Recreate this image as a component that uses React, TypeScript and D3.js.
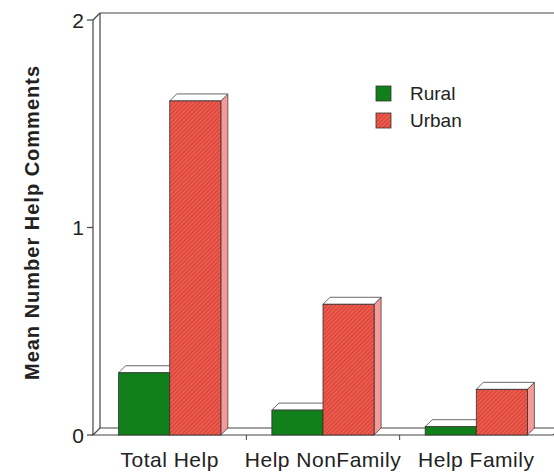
import React from "react";
import * as d3 from "d3";

const categories = ["Total Help", "Help NonFamily", "Help Family"];
const series = ["Rural", "Urban"];
const rural = [0.3, 0.12, 0.04];
const urban = [1.61, 0.63, 0.22];
const yTicks = [0, 1, 2];

const W = 554;
const H = 473;
const DX = 7;
const DY = -7;
const FONT = "Liberation Sans, Arial, Helvetica, sans-serif";

export default function App() {
  const x = d3.scaleBand<string>().domain(categories).range([93, 553]).paddingInner(0.333).paddingOuter(0.167);
  const xs = d3.scaleBand<string>().domain(series).range([0, x.bandwidth()]);
  const y = d3.scaleLinear().domain([0, 2]).range([435, 20]);
  const y0 = y(0);
  const left = x.range()[0];
  const right = x.range()[1];

  const colors: Record<string, { front: string; side: string }> = {
    Rural: { front: "#12801a", side: "#0c5e12" },
    Urban: { front: "url(#hatch)", side: "#f59a98" },
  };

  const bars = categories.flatMap((c, i) =>
    series.map((s) => ({ c, s, v: s === "Rural" ? rural[i] : urban[i] }))
  );

  const stroke = "#444";

  return (
    <div style={{ position: "absolute", left: 0, top: 0 }}>
      <svg width={W} height={H} style={{ display: "block", background: "#fff" }}>
        <defs>
          <pattern id="hatch" width={3} height={3} patternUnits="userSpaceOnUse" patternTransform="rotate(45)">
            <rect width={3} height={3} fill="#ee5a4c" />
            <line x1={0} y1={0} x2={0} y2={3} stroke="#b8302a" strokeWidth={1.1} />
          </pattern>
        </defs>

        {/* back wall and floor */}
        <line x1={left + DX} y1={y(2) + DY} x2={W} y2={y(2) + DY} stroke={stroke} strokeWidth={1.2} />
        <line x1={left + DX} y1={y(2) + DY} x2={left + DX} y2={y0 + DY} stroke={stroke} strokeWidth={1.2} />
        <line x1={left} y1={y(2)} x2={left + DX} y2={y(2) + DY} stroke={stroke} strokeWidth={1.2} />
        <path
          d={`M${left},${y0} L${left + DX},${y0 + DY} L${right + DX},${y0 + DY} L${right},${y0} Z`}
          fill="#fff"
          stroke={stroke}
          strokeWidth={1.2}
        />
        <line x1={left} y1={y(2)} x2={left} y2={y0} stroke={stroke} strokeWidth={1.2} />

        {/* y ticks */}
        {yTicks.map((t) => (
          <g key={t}>
            <line x1={left - 6} y1={y(t)} x2={left} y2={y(t)} stroke={stroke} strokeWidth={1.2} />
            <text x={84} y={y(t)} dy="0.36em" textAnchor="end" fontFamily={FONT} fontSize={21} fill="#222">
              {t}
            </text>
          </g>
        ))}

        {/* category dividers */}
        {categories.slice(1).map((c) => (
          <line
            key={c}
            x1={x(c)! - (x.step() - x.bandwidth()) / 2}
            y1={y0}
            x2={x(c)! - (x.step() - x.bandwidth()) / 2}
            y2={y0 + 5}
            stroke={stroke}
            strokeWidth={1}
          />
        ))}

        {/* bars */}
        {bars.map((b) => {
          const bx = x(b.c)! + xs(b.s)!;
          const w = xs.bandwidth();
          const top = y(b.v);
          return (
            <g key={b.c + b.s}>
              <path
                d={`M${bx + w},${top} L${bx + w + DX},${top + DY} L${bx + w + DX},${y0 + DY} L${bx + w},${y0} Z`}
                fill={colors[b.s].side}
                stroke={stroke}
                strokeWidth={0.8}
              />
              <path
                d={`M${bx},${top} L${bx + DX},${top + DY} L${bx + w + DX},${top + DY} L${bx + w},${top} Z`}
                fill="#fff"
                stroke={stroke}
                strokeWidth={0.8}
              />
              <rect x={bx} y={top} width={w} height={y0 - top} fill={colors[b.s].front} stroke="#333" strokeWidth={0.8} />
            </g>
          );
        })}

        {/* x labels */}
        {categories.map((c) => (
          <text
            key={c}
            x={x(c)! + x.bandwidth() / 2}
            y={467}
            textAnchor="middle"
            fontFamily={FONT}
            fontSize={21}
            letterSpacing={0.5}
            fill="#222"
          >
            {c}
          </text>
        ))}

        {/* y title */}
        <text
          transform={`translate(39,${(y(0) + y(2)) / 2 - 5}) rotate(-90)`}
          textAnchor="middle"
          fontFamily={FONT}
          fontSize={20}
          fontWeight="bold"
          letterSpacing={1}
          fill="#222"
        >
          Mean Number Help Comments
        </text>

        {/* legend */}
        {series.map((s, i) => (
          <g key={s} transform={`translate(376,${86 + i * 27})`}>
            <rect width={15} height={15} fill={colors[s].front} stroke="#333" strokeWidth={0.8} />
            <text x={34} y={7.5} dy="0.36em" fontFamily={FONT} fontSize={19} fill="#222">
              {s}
            </text>
          </g>
        ))}
      </svg>
    </div>
  );
}
